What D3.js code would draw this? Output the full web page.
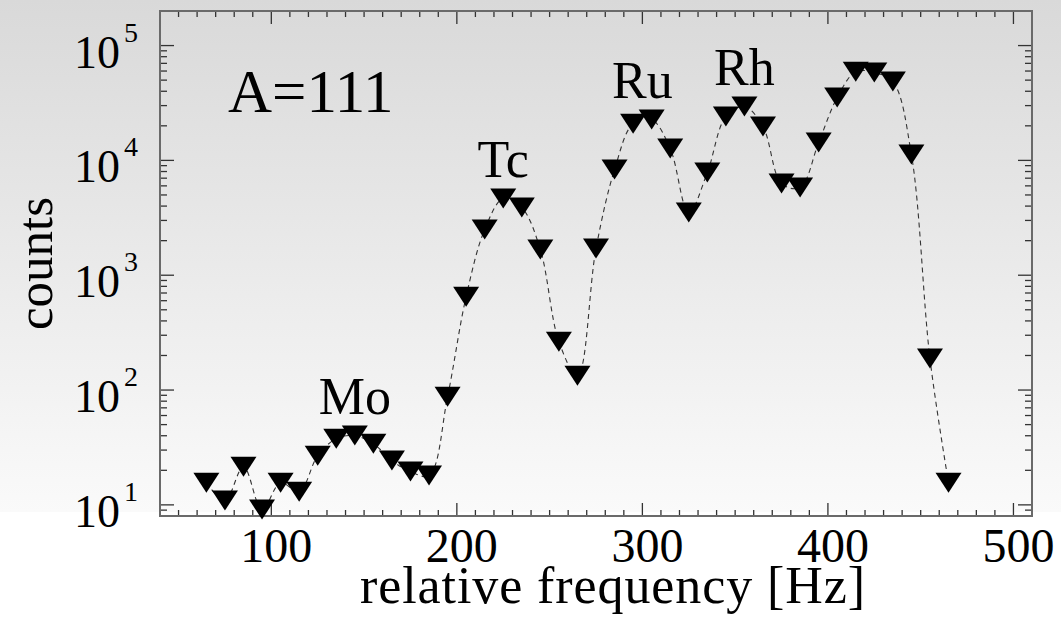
<!DOCTYPE html>
<html>
<head>
<meta charset="utf-8">
<script src="https://cdn.jsdelivr.net/npm/d3@7/dist/d3.min.js"></script>
<style>
  html, body { margin: 0; padding: 0; background: #ffffff; }
  svg { display: block; }
  text { font-family: "Liberation Serif", "DejaVu Serif", serif; fill: #000; }
</style>
</head>
<body>
<svg id="chart" width="1061" height="621"></svg>
<script>
// Relative frequency of each measurement bin [Hz]
const frequencies = [
  65, 75, 85, 95, 105, 115, 125, 135, 145, 155,
  165, 175, 185, 195, 205, 215, 225, 235, 245, 255,
  265, 275, 285, 295, 305, 315, 325, 335, 345, 355,
  365, 375, 385, 395, 405, 415, 425, 435, 445, 455, 465
];
// Counts recorded in each bin
const counts = [
  15.6, 10.9, 21.5, 9.1, 15.6, 13.0, 26.8, 37.7, 40.1, 34.1,
  24.3, 19.5, 18.0, 87.6, 651, 2496, 4650, 3880, 1671, 264,
  133, 1706, 8310, 20900, 22650, 12680, 3510, 7830, 24080, 29440,
  19690, 6280, 5800, 14290, 35240, 59290, 58210, 48550, 11240, 188, 15.6
];
// Element labels and the frequency each is centred over
const elementNames = ["Mo", "Tc", "Ru", "Rh"];
const elementFreqs = [145, 225, 300, 355];
// Axis tick labels
const xTickLabels = [100, 200, 300, 400, 500];
const yTickExponents = [1, 2, 3, 4, 5];

(function draw() {
  const svg = d3.select("#chart");
  const W = 1061;

  // Plot frame edges
  const pLeft = 160, pRight = 1032, pTop = 11, pBottom = 516;

  const x = d3.scaleLinear().domain([40, 510]).range([pLeft, pRight]);
  const y = d3.scaleLog().domain([8, 2e5]).range([pBottom, pTop]);

  // Background: grey fading to white
  const defs = svg.append("defs");
  const grad = defs.append("linearGradient")
    .attr("id", "bg").attr("x1", 0).attr("y1", 0).attr("x2", 0).attr("y2", 1);
  grad.append("stop").attr("offset", "0%").attr("stop-color", "#d9d9d9");
  grad.append("stop").attr("offset", "100%").attr("stop-color", "#fafafa");
  svg.append("rect").attr("x", 0).attr("y", 0).attr("width", W).attr("height", 512)
    .attr("fill", "url(#bg)");

  // Tick marks (all pointing into the plot)
  const ticks = svg.append("g").attr("stroke", "#333").attr("stroke-width", 1.3);
  const xMinor = d3.range(50, 510, 10);
  xMinor.forEach(f => {
    const major = f % 100 === 0;
    const len = major ? 13 : 6;
    ticks.append("line").attr("x1", x(f)).attr("x2", x(f))
      .attr("y1", pBottom).attr("y2", pBottom - len);
    ticks.append("line").attr("x1", x(f)).attr("x2", x(f))
      .attr("y1", pTop).attr("y2", pTop + len);
  });
  const yTicks = [];
  for (let e = 0; e <= 5; e++) {
    for (let m = 1; m <= 9; m++) {
      const v = m * Math.pow(10, e);
      if (v >= 8 && v <= 2e5) yTicks.push({ v, major: m === 1 });
    }
  }
  yTicks.forEach(t => {
    const len = t.major ? 14 : 7;
    ticks.append("line").attr("x1", pLeft).attr("x2", pLeft + len)
      .attr("y1", y(t.v)).attr("y2", y(t.v));
    ticks.append("line").attr("x1", pRight).attr("x2", pRight - len)
      .attr("y1", y(t.v)).attr("y2", y(t.v));
  });

  // Frame
  svg.append("rect")
    .attr("x", pLeft).attr("y", pTop)
    .attr("width", pRight - pLeft).attr("height", pBottom - pTop)
    .attr("fill", "none").attr("stroke", "#6a6a6a").attr("stroke-width", 2);

  // X tick labels
  svg.append("g").selectAll("text").data(xTickLabels).join("text")
    .attr("x", d => x(d) + 5).attr("y", 562)
    .attr("text-anchor", "middle").attr("font-size", 48)
    .text(d => d);

  // Y tick labels as powers of ten
  const yl = svg.append("g").selectAll("text").data(yTickExponents).join("text")
    .attr("x", 74).attr("y", d => y(Math.pow(10, d)) + 22)
    .attr("font-size", 46);
  yl.append("tspan").text("10");
  yl.append("tspan").attr("dx", 4).attr("dy", -26).attr("font-size", 28).text(d => d);

  // Axis titles
  svg.append("text").attr("x", 360).attr("y", 603)
    .attr("font-size", 52)
    .attr("textLength", 505).attr("lengthAdjust", "spacing")
    .text("relative frequency [Hz]");
  svg.append("text")
    .attr("transform", `translate(52,${(pTop + pBottom) / 2}) rotate(-90)`)
    .attr("text-anchor", "middle").attr("font-size", 51)
    .text("counts");

  // Dashed connecting curve
  const pts = frequencies.map((f, i) => [f, counts[i]]);
  const line = d3.line()
    .x(d => x(d[0])).y(d => y(d[1]))
    .curve(d3.curveCatmullRom.alpha(0.5));
  svg.append("path").datum(pts)
    .attr("d", line)
    .attr("fill", "none").attr("stroke", "#333")
    .attr("stroke-width", 1.1).attr("stroke-dasharray", "5,4");

  // Down-pointing triangle markers
  const tw = 13, th = 10;
  svg.append("g").selectAll("path").data(pts).join("path")
    .attr("transform", d => `translate(${x(d[0])},${y(d[1])})`)
    .attr("d", `M${-tw},${-th}L${tw},${-th}L0,${th}Z`)
    .attr("fill", "#000");

  // Element labels above each peak
  svg.append("g").selectAll("text").data(elementNames).join("text")
    .attr("x", (d, i) => x(elementFreqs[i]))
    .attr("y", (d, i) => {
      const near = pts.filter(p => Math.abs(p[0] - elementFreqs[i]) <= 5);
      return y(d3.max(near, p => p[1])) - 22;
    })
    .attr("text-anchor", "middle").attr("font-size", 52)
    .text(d => d);

  // Mass number tag
  svg.append("text").attr("x", 228).attr("y", 112)
    .attr("font-size", 61).text("A=111");
})();
</script>
</body>
</html>
